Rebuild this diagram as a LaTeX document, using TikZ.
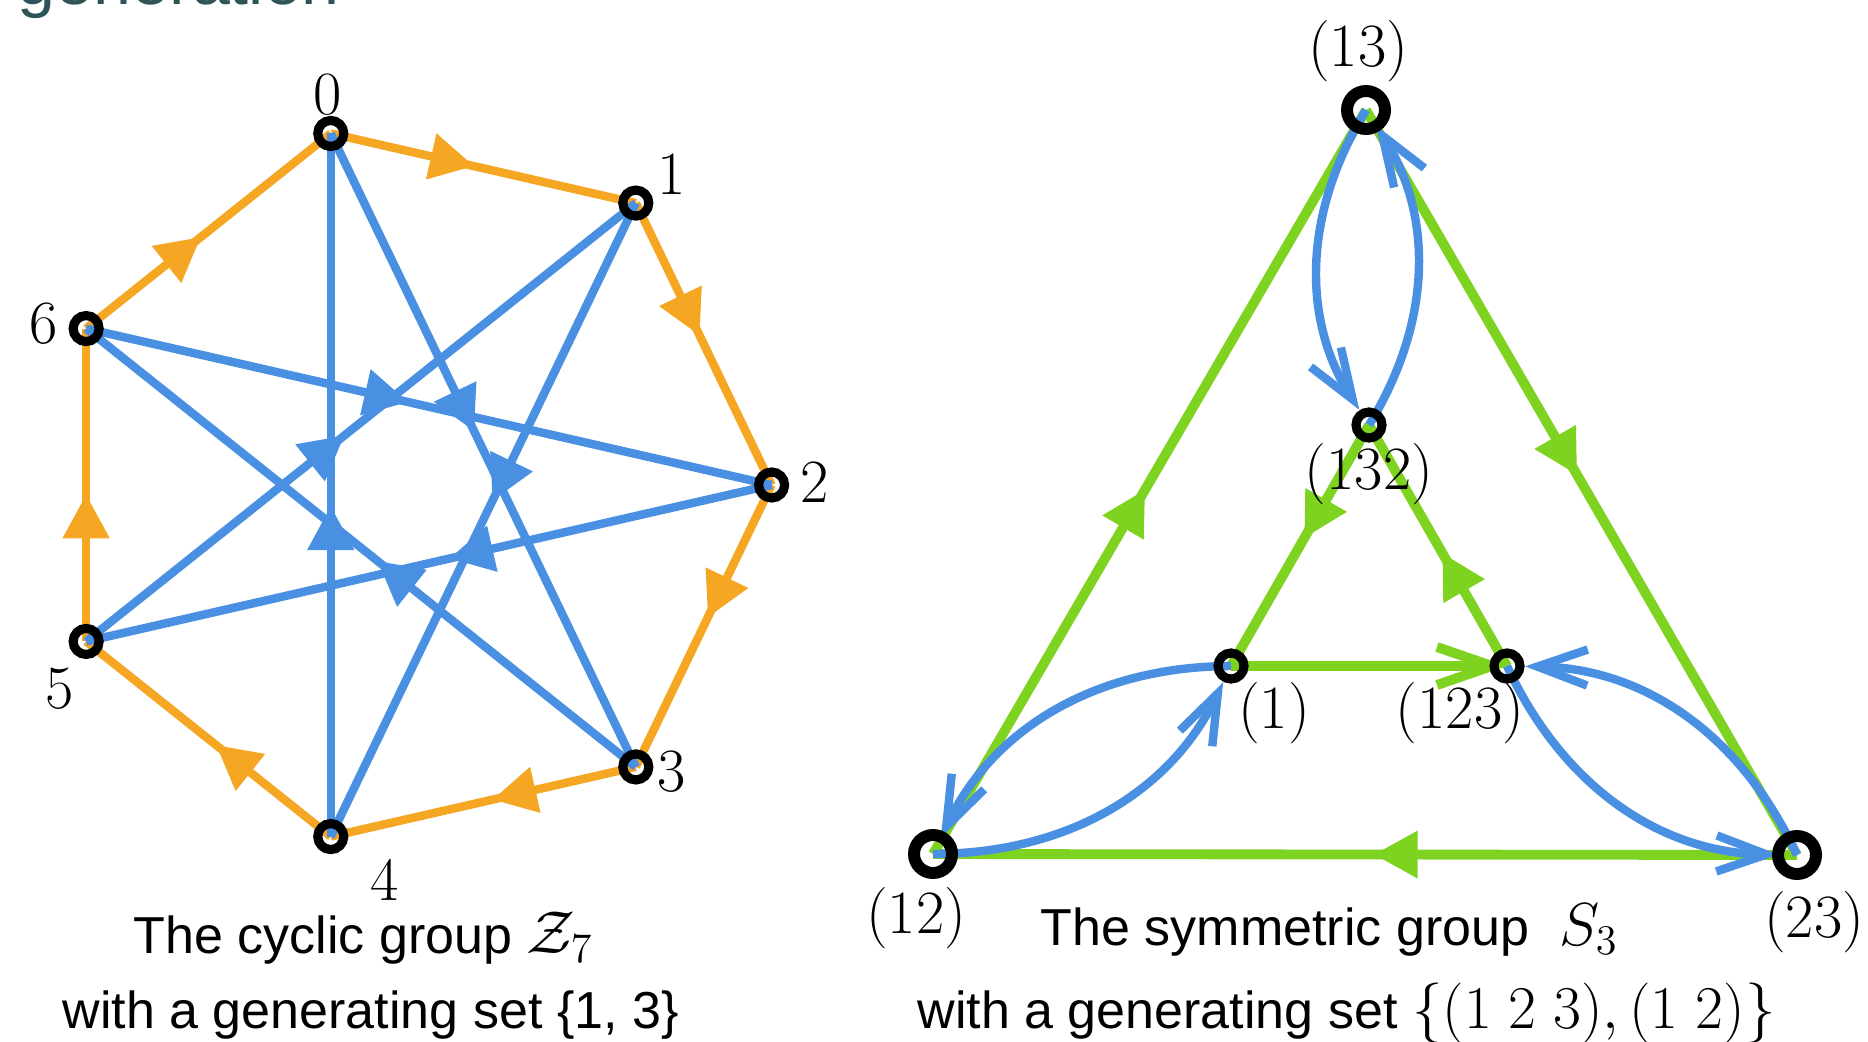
\documentclass[tikz,border=0pt]{standalone}
\usepackage{amsmath}
\usepackage{xcolor}
\usepackage{fontspec}
\usepackage{tikz}
\usetikzlibrary{arrows.meta,decorations.markings,calc}

\newfontfamily\capfont{Liberation Sans}

\definecolor{sketchorange}{HTML}{F5A623}
\definecolor{sketchblue}{HTML}{4A90E2}
\definecolor{sketchgreen}{HTML}{7ED321}
\definecolor{titleteal}{RGB}{45,85,87}

\pgfdeclarelayer{edges}
\pgfsetlayers{edges,main}

\tikzset{
  ring/.style={circle, draw=black, line width=2.6pt, minimum size=2.6mm, inner sep=0pt},
  bigring/.style={circle, draw=black, line width=3.4pt, minimum size=3.8mm, inner sep=0pt},
  midarrow/.style={postaction={decorate, decoration={markings,
      mark=at position #1 with {\arrow{Triangle[length=4.4mm,width=4.5mm]}}}}},
  orangeedge/.style={draw=sketchorange, fill=sketchorange, line width=2.4pt, midarrow=0.47},
  blueedge/.style={draw=sketchblue, fill=sketchblue, line width=2.4pt, midarrow=0.47},
  greenedge/.style={draw=sketchgreen, fill=sketchgreen, line width=2.8pt},
  bluecurve/.style={draw=sketchblue, line width=2.4pt, shorten >=1.8mm,
    -{Straight Barb[length=5mm,width=3.6mm]}},
  numlbl/.style={inner sep=0pt, font=\fontsize{17.5}{21}\selectfont},
  captext/.style={inner sep=0pt, anchor=base west, font=\capfont\fontsize{14.8}{18}\selectfont},
}

\begin{document}
\begin{tikzpicture}
  \useasboundingbox (0,0) rectangle (18.68,10.41);

  % title line, cut off at the top
  \node[anchor=base west, inner sep=0pt, text=titleteal,
    font=\capfont\fontsize{19.4}{23}\selectfont] (title) at (0.17,10.37) {generation};

  % cyclic group Z_7
  \begin{scope}[shift={(4.11,5.56)}]
    \foreach \k in {0,...,6}
      \node[ring] (z\k) at ({(2-\k)*360/7}:3.606) {};
  \end{scope}

  \begin{pgfonlayer}{edges}
    % generator 1
    \foreach \k in {0,...,6} {
      \pgfmathtruncatemacro\j{mod(\k+1,7)}
      \draw[orangeedge] (z\k.center) -- (z\j.center);
    }
    % generator 3
    \foreach \k in {0,...,6} {
      \pgfmathtruncatemacro\j{mod(\k+3,7)}
      \draw[blueedge] (z\k.center) -- (z\j.center);
    }
  \end{pgfonlayer}

  \foreach \k/\dx/\dy in {0/-0.03/0.39, 1/0.36/0.29, 2/0.43/0.03, 3/0.36/-0.05,
                          4/0.54/-0.43, 5/-0.27/-0.47, 6/-0.43/0.05}
    \node[numlbl] at ($(z\k)+(\dx,\dy)$) {\k};

  % symmetric group S_3
  \node[bigring] (s13) at (13.66,9.31) {};
  \node[bigring] (s12) at (9.33,1.87) {};
  \node[bigring] (s23) at (17.97,1.86) {};
  \node[ring] (s132) at (13.69,6.16) {};
  \node[ring] (s1) at (12.31,3.75) {};
  \node[ring] (s123) at (15.07,3.75) {};

  \begin{pgfonlayer}{edges}
    % generator (1 2 3)
    \draw[greenedge, midarrow=0.49] (s12.center) -- (s13.center);
    \draw[greenedge, midarrow=0.49] (s13.center) -- (s23.center);
    \draw[greenedge, midarrow=0.49] (s23.center) -- (s12.center);
    \draw[greenedge, midarrow=0.47] (s132.center) -- (s1.center);
    \draw[greenedge, midarrow=0.47] (s123.center) -- (s132.center);
    \draw[greenedge, -{Straight Barb[length=5.5mm,width=3.8mm]}] (s1.center) -- (s123.center);
    % generator (1 2)
    \foreach \a/\b in {s13/s132, s132/s13, s1/s12, s12/s1, s123/s23, s23/s123}
      \draw[bluecurve] (\a.center) to[bend right=32] (\b.center);
  \end{pgfonlayer}

  \foreach \n/\t/\dx/\dy in {s13/(13)/-0.08/0.59, s132/(132)/0/-0.49, s1/(1)/0.43/-0.47,
                             s123/(123)/-0.47/-0.47, s12/(12)/-0.17/-0.64, s23/(23)/0.17/-0.67}
    \node[numlbl] at ($(\n)+(\dx,\dy)$) {\t};

  % captions
  \node[captext] (capz) at (1.33,0.88) {The cyclic group {\fontsize{17}{20}\selectfont$\mathcal{Z}_7$}};
  \node[captext] (capzset) at (0.62,0.13) {with a generating set \{1, 3\}};
  \node[captext] (caps) at (10.40,0.96) {The symmetric group\hspace{0.3cm}{\fontsize{17}{20}\selectfont$S_3$}};
  \node[captext] (capsset) at (9.17,0.13) {with a generating set
    {\fontsize{16}{19}\selectfont$\{(1\;2\;3),(1\;2)\}$}};
\end{tikzpicture}
\end{document}
